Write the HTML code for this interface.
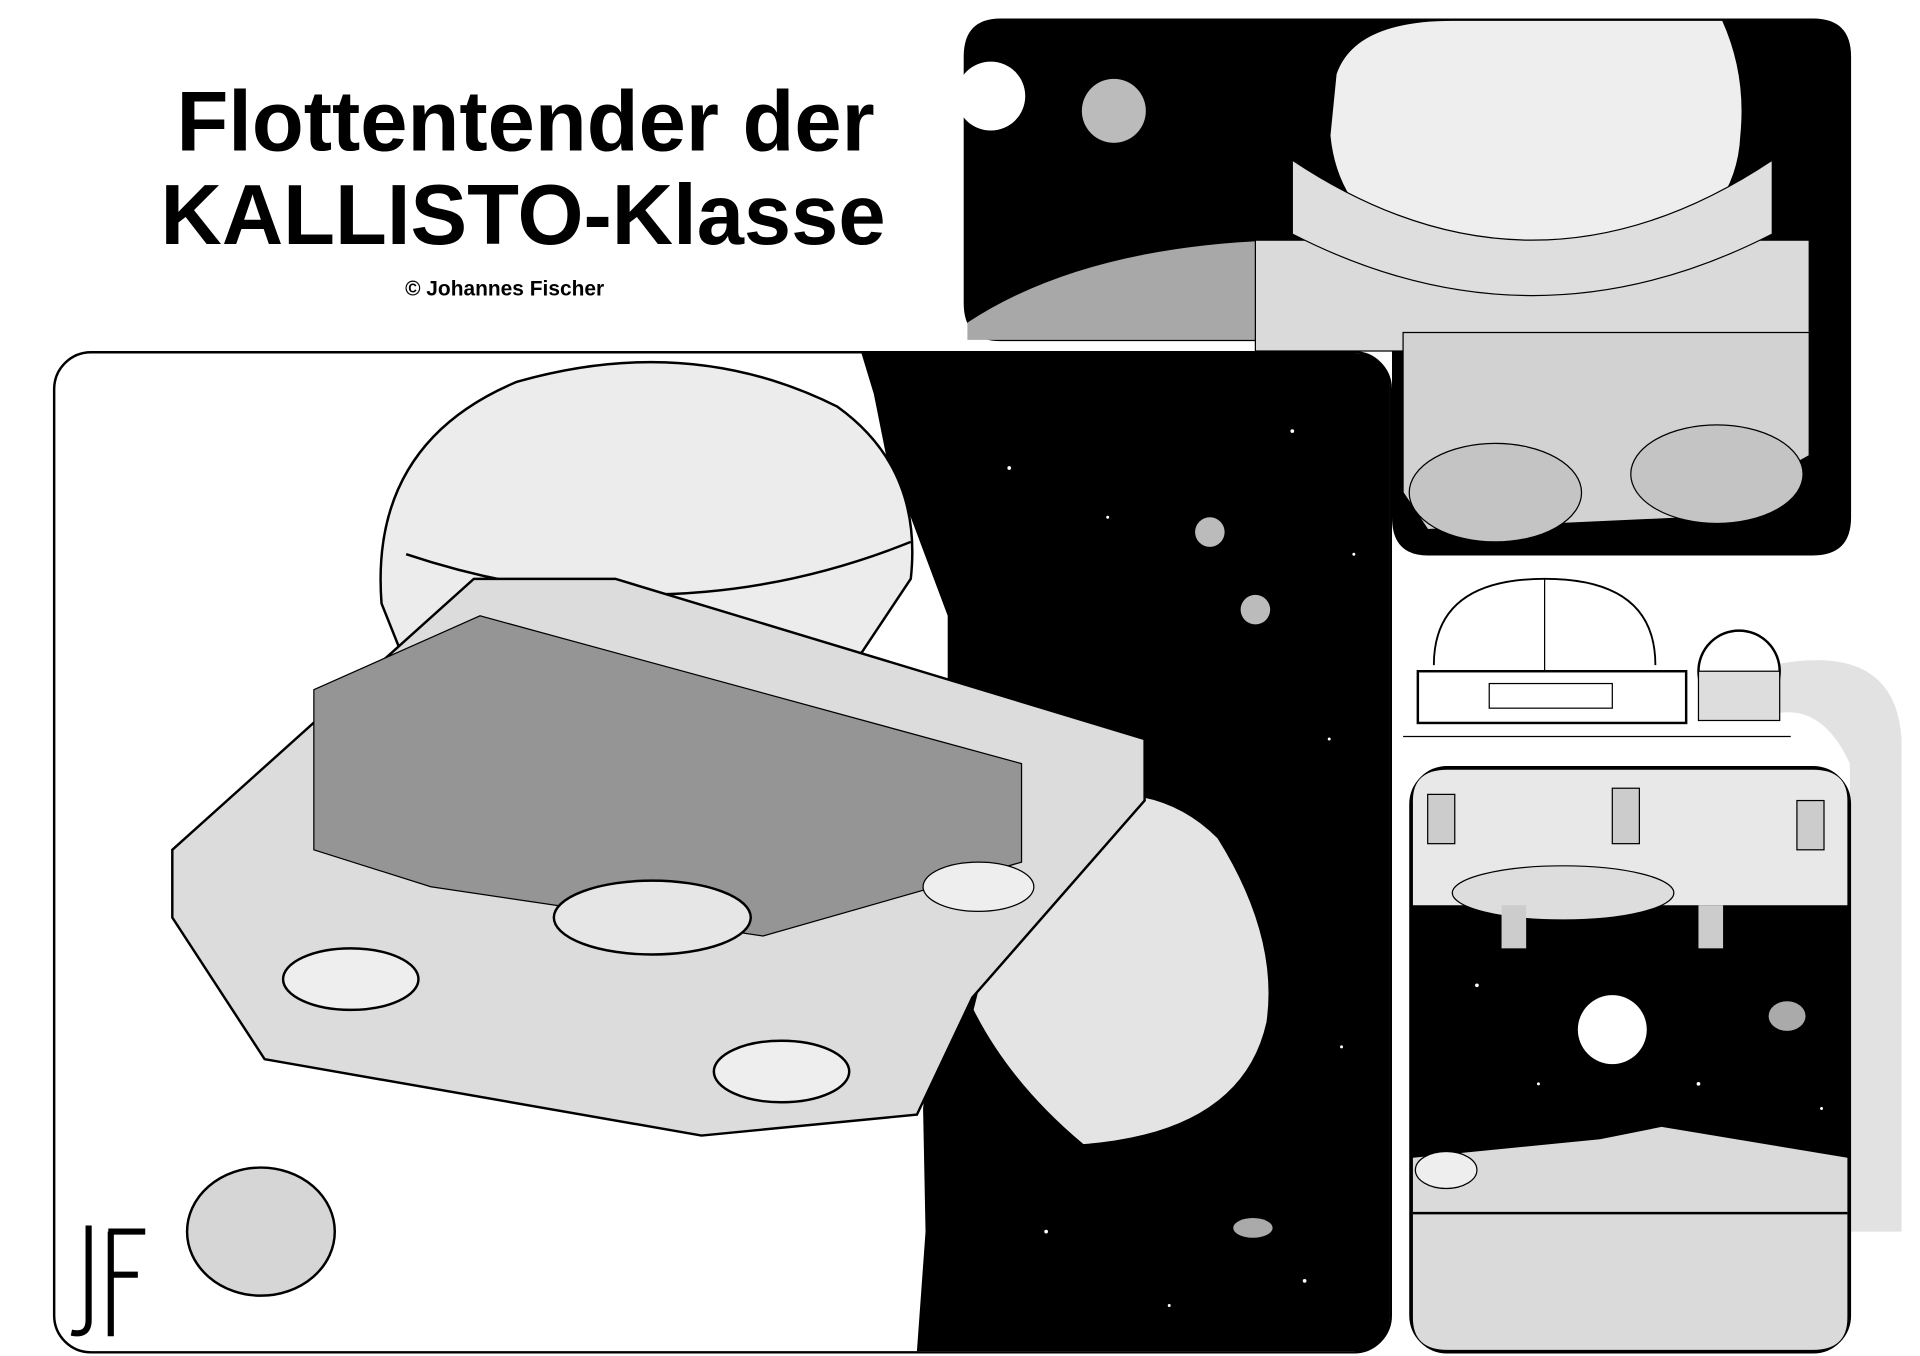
<!DOCTYPE html>
<html><head><meta charset="utf-8"><style>
html,body{margin:0;padding:0;background:#fff;width:1920px;height:1356px;overflow:hidden}
svg{display:block}
</style></head><body>
<svg width="1920" height="1356" viewBox="0 0 1560 1101" preserveAspectRatio="none" xmlns="http://www.w3.org/2000/svg">
<rect width="1560" height="1101" fill="#fff"/>
<!-- watermark -->
<path d="M1440 540 Q1540 520 1545 600 L1545 1000 L1503 1000 L1503 620 Q1480 570 1440 580 Z" fill="#e2e2e2"/>
<text x="1150" y="1058" font-family="Liberation Sans, sans-serif" font-weight="bold" font-size="62" fill="#dcdcdc">z-journal.de</text>

<!-- title -->
<text x="427" y="122" text-anchor="middle" font-family="Liberation Sans, sans-serif" font-weight="bold" font-size="69" fill="#000">Flottentender der</text>
<text x="425" y="198" text-anchor="middle" font-family="Liberation Sans, sans-serif" font-weight="bold" font-size="69" fill="#000">KALLISTO-Klasse</text>
<text x="410" y="240" text-anchor="middle" font-family="Liberation Sans, sans-serif" font-weight="bold" font-size="17" fill="#000">© Johannes Fischer</text>

<!-- top-right panel -->
<path d="M813 16 L1473 16 Q1503 16 1503 46 L1503 420 Q1503 450 1473 450 L1160 450 Q1132 450 1132 420 L1132 276 L813 276 Q784 276 784 246 L784 46 Q784 16 813 16 Z" fill="#000" stroke="#000" stroke-width="2"/>
<circle cx="805" cy="78" r="28" fill="#fff"/>
<path d="M786 262 Q880 200 1040 195 L1040 276 L786 276 Z" fill="#a8a8a8"/>
<ellipse cx="905" cy="90" rx="26" ry="26" fill="#bbb"/>
<rect x="1020" y="195" width="450" height="90" fill="#dadada" stroke="#000"/>
<path d="M1140 270 L1470 270 L1470 370 L1380 420 L1160 430 L1140 400 Z" fill="#d2d2d2" stroke="#000"/>
<ellipse cx="1395" cy="385" rx="70" ry="40" fill="#c4c4c4" stroke="#000"/>
<ellipse cx="1215" cy="400" rx="70" ry="40" fill="#c4c4c4" stroke="#000"/>
<path d="M1085 60 Q1100 16 1180 16 L1400 16 Q1420 60 1415 110 Q1410 215 1245 225 Q1090 215 1080 110 Z" fill="#eeeeee" stroke="#000" stroke-width="2"/>
<path d="M1050 130 Q1245 260 1440 130 L1440 190 Q1245 290 1050 190 Z" fill="#dedede" stroke="#000"/>

<!-- main panel -->
<rect x="44" y="286" width="1086" height="812" rx="30" fill="#fff" stroke="#000" stroke-width="2"/>
<path d="M700 287 L1100 287 Q1129 287 1129 316 L1129 1068 Q1129 1097 1100 1097 L745 1097 L752 1000 L750 900 L760 800 L770 600 L770 500 L740 420 L720 370 L710 320 Z" fill="#000"/>
<g fill="#fff">
<circle cx="820" cy="380" r="1.5"/><circle cx="900" cy="420" r="1.2"/><circle cx="1050" cy="350" r="1.5"/><circle cx="1080" cy="600" r="1.2"/><circle cx="1000" cy="700" r="1.5"/><circle cx="1090" cy="850" r="1.2"/><circle cx="850" cy="1000" r="1.5"/><circle cx="950" cy="1060" r="1.2"/><circle cx="1060" cy="1040" r="1.5"/><circle cx="1100" cy="450" r="1.2"/>
</g>
<circle cx="983" cy="432" r="12" fill="#bbb"/><circle cx="1020" cy="495" r="12" fill="#bbb"/><ellipse cx="1018" cy="997" rx="16" ry="8" fill="#aaa"/>
<path d="M310 490 Q300 360 420 310 Q560 270 680 330 Q750 380 740 470 L700 530 L330 540 Z" fill="#ececec" stroke="#000" stroke-width="2"/>
<path d="M330 450 Q540 520 740 440" fill="none" stroke="#000" stroke-width="2"/>
<path d="M830 660 Q930 620 990 680 Q1040 760 1030 830 Q1010 920 880 930 Q820 880 790 820 Z" fill="#e4e4e4" stroke="#000" stroke-width="2"/>
<path d="M140 690 L385 470 L500 470 L930 600 L930 650 L790 810 L745 905 L570 922 L215 860 L140 745 Z" fill="#dcdcdc" stroke="#000" stroke-width="2"/>
<path d="M255 560 L390 500 L830 620 L830 700 L620 760 L350 720 L255 690 Z" fill="#959595" stroke="#000"/>
<ellipse cx="530" cy="745" rx="80" ry="30" fill="#e6e6e6" stroke="#000" stroke-width="2"/>
<ellipse cx="285" cy="795" rx="55" ry="25" fill="#eee" stroke="#000" stroke-width="2"/>
<ellipse cx="635" cy="870" rx="55" ry="25" fill="#eee" stroke="#000" stroke-width="2"/>
<ellipse cx="795" cy="720" rx="45" ry="20" fill="#eee" stroke="#000"/>
<ellipse cx="212" cy="1000" rx="60" ry="52" fill="#d6d6d6" stroke="#000" stroke-width="2"/>
<!-- JF logo -->
<path d="M72 995 L72 1072 Q72 1085 58 1082" fill="none" stroke="#000" stroke-width="5"/>
<path d="M90 1000 L90 1085 M88 1000 L118 1000 M90 1035 L112 1035" fill="none" stroke="#000" stroke-width="5"/>

<!-- middle-right diagram -->
<path d="M1165 540 Q1165 470 1255 470 Q1345 470 1345 540" fill="none" stroke="#000" stroke-width="1.5"/>
<line x1="1255" y1="470" x2="1255" y2="545" stroke="#000"/>
<rect x="1152" y="545" width="218" height="42" fill="#fff" stroke="#000" stroke-width="2"/>
<rect x="1210" y="555" width="100" height="20" fill="none" stroke="#000"/>
<circle cx="1413" cy="545" r="33" fill="#fff" stroke="#000" stroke-width="2"/>
<rect x="1380" y="545" width="66" height="40" fill="#ddd" stroke="#000"/>
<line x1="1140" y1="598" x2="1455" y2="598" stroke="#000"/>

<!-- bottom-right panel -->
<rect x="1146" y="623" width="357" height="475" rx="30" fill="#000" stroke="#000" stroke-width="2"/>
<path d="M1148 650 Q1148 625 1176 625 L1473 625 Q1501 625 1501 650 L1501 735 L1148 735 Z" fill="#e8e8e8"/>
<ellipse cx="1270" cy="725" rx="90" ry="22" fill="#ddd" stroke="#000"/>
<rect x="1160" y="645" width="22" height="40" fill="#ccc" stroke="#000"/>
<rect x="1310" y="640" width="22" height="45" fill="#ccc" stroke="#000"/>
<rect x="1460" y="650" width="22" height="40" fill="#ccc" stroke="#000"/>
<rect x="1220" y="735" width="20" height="35" fill="#ccc"/><rect x="1380" y="735" width="20" height="35" fill="#ccc"/>
<circle cx="1310" cy="836" r="28" fill="#fff"/>
<ellipse cx="1452" cy="825" rx="15" ry="12" fill="#aaa"/>
<path d="M1148 940 L1300 925 L1350 915 L1501 940 L1501 1070 Q1501 1096 1473 1096 L1176 1096 Q1148 1096 1148 1070 Z" fill="#dadada"/>
<path d="M1148 985 L1501 985" stroke="#000" stroke-width="2"/>
<ellipse cx="1175" cy="950" rx="25" ry="15" fill="#eee" stroke="#000"/>
<g fill="#fff"><circle cx="1200" cy="800" r="1.5"/><circle cx="1380" cy="880" r="1.5"/><circle cx="1480" cy="900" r="1.2"/><circle cx="1250" cy="880" r="1.2"/></g>
</svg>
</body></html>
